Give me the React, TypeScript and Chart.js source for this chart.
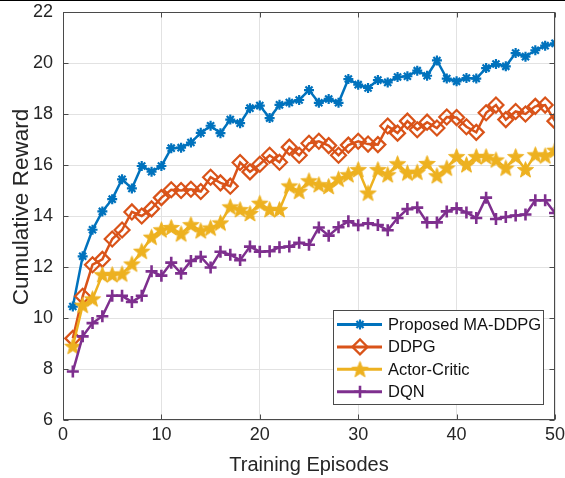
import React, { useEffect, useRef } from 'react';
import { Chart, registerables } from 'chart.js';
import { drawPoint } from 'chart.js/helpers';

Chart.register(...registerables);

// ---- data ----
const episodes = [
  1, 2, 3, 4, 5, 6, 7, 8, 9, 10, 11, 12, 13, 14, 15, 16, 17, 18, 19, 20, 21, 22, 23, 24, 25,
  26, 27, 28, 29, 30, 31, 32, 33, 34, 35, 36, 37, 38, 39, 40, 41, 42, 43, 44, 45, 46, 47, 48, 49, 50,
];

const maddpg = [
  10.45, 12.42, 13.46, 14.18, 14.66, 15.44, 15.08, 15.96, 15.74, 15.96,
  16.66, 16.68, 16.88, 17.26, 17.54, 17.25, 17.78, 17.64, 18.23, 18.33,
  17.84, 18.36, 18.45, 18.55, 18.94, 18.44, 18.59, 18.44, 19.37, 19.15,
  19.02, 19.33, 19.24, 19.45, 19.48, 19.7, 19.5, 20.1, 19.39, 19.28,
  19.41, 19.39, 19.8, 19.96, 19.87, 20.39, 20.25, 20.5, 20.68, 20.77,
];

const ddpg = [
  9.2, 10.85, 12.09, 12.3, 13.1, 13.45, 14.16, 14.0, 14.28, 14.72,
  15.03, 15.0, 15.05, 14.96, 15.52, 15.3, 15.17, 16.1, 15.73, 16.03,
  16.38, 16.11, 16.7, 16.38, 16.85, 16.93, 16.76, 16.38, 16.78, 16.93,
  16.82, 16.8, 17.53, 17.25, 17.72, 17.38, 17.68, 17.45, 17.88, 17.86,
  17.5, 17.28, 18.05, 18.35, 17.78, 18.1, 18.0, 18.3, 18.35, 17.72,
];

const actorCritic = [
  8.89, 10.5, 10.75, 11.7, 11.7, 11.73, 12.12, 12.62, 13.17, 13.46,
  13.55, 13.3, 13.66, 13.42, 13.53, 13.73, 14.36, 14.25, 14.1, 14.5,
  14.25, 14.25, 15.18, 14.97, 15.38, 15.23, 15.16, 15.45, 15.62, 15.82,
  14.9, 15.82, 15.62, 16.05, 15.69, 15.72, 16.06, 15.58, 15.88, 16.33,
  16.01, 16.33, 16.33, 16.2, 15.88, 16.33, 15.82, 16.4, 16.36, 16.58,
];

const dqn = [
  7.9, 9.28, 9.8, 10.07, 10.87, 10.87, 10.63, 10.87, 11.83, 11.66,
  12.17, 11.75, 12.24, 12.4, 11.98, 12.6, 12.48, 12.27, 12.8, 12.6,
  12.62, 12.77, 12.8, 12.95, 12.87, 13.55, 13.23, 13.56, 13.79, 13.64,
  13.71, 13.65, 13.44, 13.92, 14.27, 14.33, 13.75, 13.75, 14.18, 14.3,
  14.14, 13.92, 14.72, 13.88, 13.96, 14.02, 14.06, 14.62, 14.62, 14.12,
];

const seriesNames = ['Proposed MA-DDPG', 'DDPG', 'Actor-Critic', 'DQN'];
const xTicks = [0, 10, 20, 30, 40, 50];
const yTicks = [6, 8, 10, 12, 14, 16, 18, 20, 22];
const xLabel = 'Training Episodes';
const yLabel = 'Cumulative Reward';

// ---- styles ----
const FONT = '"Liberation Sans", Arial, Helvetica, sans-serif';
const COLORS = ['#0072BD', '#D95319', '#EDB120', '#7E2F8E'];
const AXIS_COLOR = '#4a4a4a';
const TEXT_COLOR = '#262626';

function makePentagram(color: string, r: number): HTMLCanvasElement {
  const s = Math.ceil(r * 2 + 2);
  const c = document.createElement('canvas');
  c.width = s;
  c.height = s;
  const ctx = c.getContext('2d')!;
  ctx.beginPath();
  for (let i = 0; i < 10; i++) {
    const rad = i % 2 === 0 ? r : r * 0.42;
    const a = -Math.PI / 2 + (i * Math.PI) / 5;
    const px = s / 2 + rad * Math.cos(a);
    const py = s / 2 + 0.6 + rad * Math.sin(a);
    if (i === 0) ctx.moveTo(px, py);
    else ctx.lineTo(px, py);
  }
  ctx.closePath();
  ctx.fillStyle = color;
  ctx.fill();
  ctx.strokeStyle = color;
  ctx.lineWidth = 1;
  ctx.stroke();
  return c;
}

function zeroPadding(s: any) {
  s.paddingTop = 0;
  s.paddingBottom = 0;
  s.paddingLeft = 0;
  s.paddingRight = 0;
}

export default function App() {
  const canvasRef = useRef<HTMLCanvasElement | null>(null);

  useEffect(() => {
    const canvas = canvasRef.current;
    if (!canvas) return;
    const star = makePentagram(COLORS[2], 8.5);

    const markers: any[] = [
      { pointStyle: 'star', radius: 5, borderWidth: 2.2 },
      { pointStyle: 'rectRot', radius: 7.5, borderWidth: 2.2 },
      { pointStyle: star, radius: 8.5, borderWidth: 0 },
      { pointStyle: 'cross', radius: 6, borderWidth: 2.6 },
    ];
    const values = [maddpg, ddpg, actorCritic, dqn];

    const datasets = values.map((vals, k) => ({
      label: seriesNames[k],
      data: vals.map((v, i) => ({ x: episodes[i], y: v })),
      borderColor: COLORS[k],
      backgroundColor: COLORS[k],
      borderWidth: 2.5,
      tension: 0,
      pointStyle: markers[k].pointStyle,
      pointRadius: markers[k].radius,
      pointBorderWidth: markers[k].borderWidth,
      pointBorderColor: COLORS[k],
      pointBackgroundColor: k === 1 ? 'rgba(255,255,255,0)' : COLORS[k],
      order: 3 - k,
    }));

    const framePlugin = {
      id: 'matlabFrame',
      afterDatasetsDraw(chart: any) {
        const { ctx, chartArea, scales } = chart;
        const { left, right, top, bottom } = chartArea;
        const L = Math.round(left) + 0.5;
        const R = Math.round(right) - 0.5;
        const T = Math.round(top) + 0.5;
        const B = Math.round(bottom) - 0.5;
        ctx.save();
        ctx.strokeStyle = AXIS_COLOR;
        ctx.lineWidth = 1;
        ctx.strokeRect(L, T, R - L, B - T);
        const tl = 5;
        ctx.beginPath();
        xTicks.forEach((v) => {
          const px = Math.round(scales.x.getPixelForValue(v)) + 0.5;
          ctx.moveTo(px, B);
          ctx.lineTo(px, B - tl);
          ctx.moveTo(px, T);
          ctx.lineTo(px, T + tl);
        });
        yTicks.forEach((v) => {
          const py = Math.round(scales.y.getPixelForValue(v)) + 0.5;
          ctx.moveTo(L, py);
          ctx.lineTo(L + tl, py);
          ctx.moveTo(R, py);
          ctx.lineTo(R - tl, py);
        });
        ctx.stroke();

        // legend
        const bw = 210;
        const bh = 94;
        const bx = Math.round(right) - 12 - bw;
        const by = Math.round(bottom) - 16 - bh;
        ctx.fillStyle = '#ffffff';
        ctx.fillRect(bx, by, bw, bh);
        ctx.strokeStyle = AXIS_COLOR;
        ctx.lineWidth = 1;
        ctx.strokeRect(bx + 0.5, by + 0.5, bw, bh);
        seriesNames.forEach((name, k) => {
          const cy = by + 14.5 + k * 22.4;
          ctx.strokeStyle = COLORS[k];
          ctx.lineWidth = 3;
          ctx.beginPath();
          ctx.moveTo(bx + 4, cy);
          ctx.lineTo(bx + 49, cy);
          ctx.stroke();
          ctx.lineWidth = markers[k].borderWidth || 1;
          ctx.fillStyle = k === 1 ? 'rgba(255,255,255,0)' : COLORS[k];
          drawPoint(ctx, {
            pointStyle: markers[k].pointStyle,
            radius: markers[k].radius,
            borderWidth: markers[k].borderWidth,
            rotation: 0,
          } as any, bx + 27, cy);
          ctx.fillStyle = '#111111';
          ctx.font = `16.5px ${FONT}`;
          ctx.textBaseline = 'middle';
          ctx.textAlign = 'left';
          ctx.fillText(name, bx + 55, cy + 1);
        });

        // y-axis title
        ctx.save();
        ctx.translate(22, 207);
        ctx.rotate(-Math.PI / 2);
        ctx.fillStyle = TEXT_COLOR;
        ctx.font = `22.5px ${FONT}`;
        ctx.textAlign = 'center';
        ctx.textBaseline = 'middle';
        ctx.fillText(yLabel, 0, 0);
        ctx.restore();

        ctx.fillStyle = '#000';
        ctx.fillRect(0, 0, chart.width, 1);
        ctx.restore();
      },
    };

    const chart = new Chart(canvas, {
      type: 'line',
      data: { datasets: datasets as any },
      options: {
        animation: false,
        responsive: false,
        maintainAspectRatio: false,
        events: [],
        layout: { padding: { left: 0, right: 10, top: 12, bottom: 0 } },
        plugins: {
          legend: { display: false },
          tooltip: { enabled: false },
        },
        scales: {
          x: {
            type: 'linear',
            min: 0,
            max: 50,
            afterBuildTicks: (s: any) => {
              s.ticks = xTicks.map((v) => ({ value: v }));
            },
            ticks: {
              color: TEXT_COLOR,
              font: { family: FONT, size: 18 },
              padding: 4,
              maxRotation: 0,
              autoSkip: false,
            },
            grid: { color: '#e2e2e2', drawTicks: false, lineWidth: 1 },
            border: { display: false },
            title: {
              display: true,
              text: xLabel,
              color: TEXT_COLOR,
              font: { family: FONT, size: 20 },
              padding: { top: 0, bottom: 1 },
            },
            afterFit: (s: any) => {
              s.height = 58;
              zeroPadding(s);
            },
          },
          y: {
            type: 'linear',
            min: 6,
            max: 22,
            afterBuildTicks: (s: any) => {
              s.ticks = yTicks.map((v) => ({ value: v }));
            },
            ticks: {
              color: TEXT_COLOR,
              font: { family: FONT, size: 18 },
              padding: 10,
              autoSkip: false,
            },
            grid: { color: '#e2e2e2', drawTicks: false, lineWidth: 1 },
            border: { display: false },
            title: { display: false },
            afterFit: (s: any) => {
              s.width = 63;
              zeroPadding(s);
            },
          },
        },
      },
      plugins: [framePlugin],
    });

    return () => {
      chart.destroy();
    };
  }, []);

  return (
    <div
      style={{
        position: 'fixed',
        left: 0,
        top: 0,
        width: 565,
        height: 478,
        background: '#ffffff',
      }}
    >
      <canvas ref={canvasRef} width={565} height={478} style={{ display: 'block' }} />
    </div>
  );
}
